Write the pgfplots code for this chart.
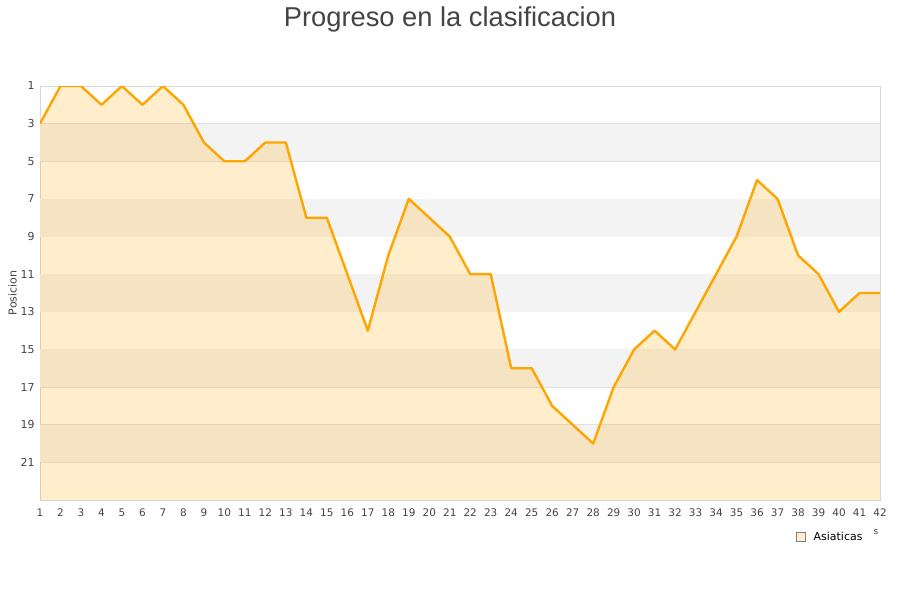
\documentclass[border=0pt]{standalone}
\usepackage{pgfplots}
\pgfplotsset{compat=1.18}
\usepackage{fontspec}
\setmainfont{DejaVu Sans}
\newfontfamily\titlefont{Liberation Sans}

\definecolor{lineor}{HTML}{FFA500}
\definecolor{band}{HTML}{F3F3F3}
\definecolor{gridc}{HTML}{E0E0E0}
\definecolor{framec}{HTML}{D8D8D8}
\definecolor{txt}{HTML}{444444}

\begin{document}
\begin{tikzpicture}
\begin{axis}[
    at={(40bp,100bp)}, anchor=south west,
    scale only axis, width=840bp, height=414bp,
    xmin=1, xmax=42, ymin=1, ymax=23,
    y dir=reverse,
    xtick={1,...,42},
    ytick={1,3,...,21},
    tick style={draw=none},
    axis line style={draw=framec},
    ymajorgrids=true,
    grid style={draw=gridc, line width=0.8pt},
    ticklabel style={font=\fontsize{10.5}{12}\selectfont, text=txt},
    xticklabel style={yshift=-5bp},
    yticklabel style={font=\fontsize{11}{12}\selectfont, xshift=-2bp},
    /pgf/number format/assume math mode=true,
    ylabel={Posicion},
    ylabel style={font=\fontsize{11}{12}\selectfont, text=txt, yshift=-3bp},
    legend style={at={(rel axis cs:0.9,-0.089)}, anchor=west, draw=none, fill=none,
        font=\fontsize{11}{12}\selectfont, inner sep=0pt,
        nodes={inner ysep=2.5bp, inner xsep=8bp}},
    legend cell align=left,
]
% alternating bands
\fill[band] (axis cs:1,3) rectangle (axis cs:42,5);
\fill[band] (axis cs:1,7) rectangle (axis cs:42,9);
\fill[band] (axis cs:1,11) rectangle (axis cs:42,13);
\fill[band] (axis cs:1,15) rectangle (axis cs:42,17);
\fill[band] (axis cs:1,19) rectangle (axis cs:42,21);

% area under the line, closed at the bottom (position 23)
\addplot[fill=lineor, fill opacity=0.2, draw=none, forget plot] coordinates {
    (1,23)
    (1,3)(2,1)(3,1)(4,2)(5,1)(6,2)(7,1)(8,2)(9,4)(10,5)
    (11,5)(12,4)(13,4)(14,8)(15,8)(16,11)(17,14)(18,10)(19,7)(20,8)
    (21,9)(22,11)(23,11)(24,16)(25,16)(26,18)(27,19)(28,20)(29,17)(30,15)
    (31,14)(32,15)(33,13)(34,11)(35,9)(36,6)(37,7)(38,10)(39,11)(40,13)
    (41,12)(42,12)
    (42,23)
};
\addplot[draw=lineor, line width=2.4pt, line join=round, forget plot] coordinates {
    (1,3)(2,1)(3,1)(4,2)(5,1)(6,2)(7,1)(8,2)(9,4)(10,5)
    (11,5)(12,4)(13,4)(14,8)(15,8)(16,11)(17,14)(18,10)(19,7)(20,8)
    (21,9)(22,11)(23,11)(24,16)(25,16)(26,18)(27,19)(28,20)(29,17)(30,15)
    (31,14)(32,15)(33,13)(34,11)(35,9)(36,6)(37,7)(38,10)(39,11)(40,13)
    (41,12)(42,12)
};
\addlegendimage{legend image code/.code={\draw[draw=gray, fill=lineor!20, line width=0.5pt] (0bp,-4.5bp) rectangle (9bp,4.5bp);}}
\addlegendentry{Asiaticas}
\end{axis}
\node[anchor=base, text=txt, font=\titlefont\fontsize{27.4}{30}\selectfont] at (450bp,573bp) {Progreso en la clasificacion};
\node[anchor=base, text=txt, font=\fontsize{9}{10}\selectfont] at (876bp,65bp) {s};
\path (0,0) rectangle (900bp,600bp);
\end{tikzpicture}
\end{document}
